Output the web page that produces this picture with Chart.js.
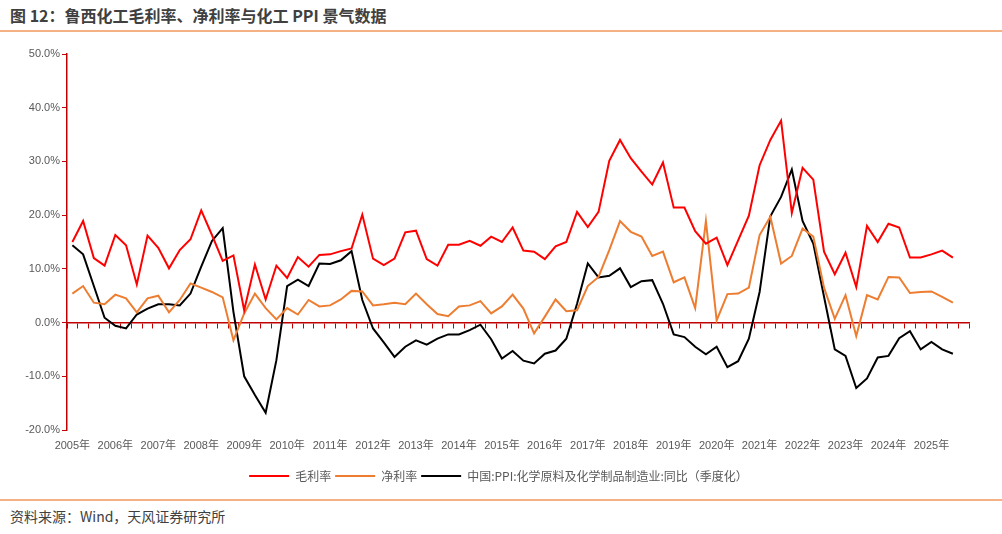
<!DOCTYPE html>
<html>
<head>
<meta charset="utf-8">
<script src="https://cdn.jsdelivr.net/npm/chart.js@4.4.1/dist/chart.umd.min.js"></script>
<style>
  html, body { margin:0; padding:0; background:#fff; }
  body { width:1002px; height:534px; position:relative; overflow:hidden; font-family:"Noto Sans CJK SC", sans-serif; }
  .title { position:absolute; left:10px; top:3px; font-size:16px; font-weight:bold; color:#404040; white-space:nowrap; }
  .rule { position:absolute; left:0; width:1002px; height:2px; background:#F4B183; }
  .source { position:absolute; left:10px; top:506px; font-size:14px; color:#404040; white-space:nowrap; }
  .box { position:absolute; left:0; top:32px; width:1002px; height:466px; }
</style>
</head>
<body>
<div class="title">图 12：鲁西化工毛利率、净利率与化工 PPI 景气数据</div>
<div class="rule" style="top:30px"></div>
<div class="box"><canvas id="c"></canvas></div>
<div class="rule" style="top:499px"></div>
<div class="source">资料来源：Wind，天风证券研究所</div>
<script>
(function(){
  // 2005Q1 ... 2025Q4, one label per quarter, year text only on Q1
  const years = ['2005','2006','2007','2008','2009','2010','2011','2012','2013','2014','2015',
                 '2016','2017','2018','2019','2020','2021','2022','2023','2024','2025'];
  const quarters = ['Q1','Q2','Q3','Q4'];

  const grossMargin = [15.0,18.9,12.0,10.6,16.3,14.4,7.1,16.2,13.9,10.1,
    13.5,15.5,20.9,16.3,11.5,12.5,2.3,10.8,4.3,10.6,
    8.3,12.2,10.4,12.6,12.7,13.3,13.8,20.1,11.9,10.7,
    11.9,16.8,17.1,11.8,10.6,14.5,14.5,15.2,14.3,16.0,
    15.0,17.7,13.4,13.2,11.8,14.2,15.0,20.6,17.8,20.6,
    30.1,34.0,30.6,28.1,25.7,29.8,21.4,21.4,17.0,14.7,
    15.8,10.7,15.3,19.9,29.3,34.0,37.6,20.4,28.8,26.6,
    13.2,9.0,13.0,6.6,18.0,15.0,18.4,17.7,12.1,12.1,
    12.7,13.4,12.1];
  const netMargin = [5.4,6.8,3.7,3.4,5.2,4.5,1.9,4.5,5.0,1.9,
    4.2,7.3,6.5,5.7,4.7,-3.3,1.7,5.4,2.7,0.6,
    2.7,1.5,4.2,3.0,3.2,4.3,5.9,5.8,3.2,3.4,
    3.7,3.4,5.4,3.4,1.6,1.2,3.0,3.2,4.0,1.7,
    3.0,5.2,2.6,-2.0,1.1,4.3,2.1,2.3,6.8,8.5,
    13.5,18.9,16.9,16.0,12.4,13.2,7.5,8.4,2.7,18.9,
    0.4,5.3,5.4,6.5,16.3,19.7,11.0,12.4,17.5,16.0,
    6.5,0.7,5.1,-2.5,5.1,4.3,8.5,8.4,5.5,5.7,
    5.8,4.8,3.7];
  const chemPPI = [14.4,12.7,6.8,0.9,-0.6,-1.1,1.5,2.6,3.4,3.4,
    3.2,5.4,10.4,15.2,17.6,2.0,-10.0,-13.5,-16.8,-7.0,
    6.8,8.0,6.8,11.0,10.9,11.6,13.3,4.2,-1.1,-3.7,
    -6.4,-4.5,-3.3,-4.1,-3.0,-2.2,-2.2,-1.4,-0.4,-3.1,
    -6.7,-5.3,-7.1,-7.6,-5.8,-5.2,-3.0,3.5,11.0,8.4,
    8.7,10.1,6.6,7.7,7.9,3.5,-2.2,-2.7,-4.5,-5.9,
    -4.5,-8.3,-7.2,-3.0,5.7,19.8,23.4,28.5,18.9,14.7,
    4.8,-5.0,-6.2,-12.2,-10.4,-6.5,-6.2,-2.9,-1.6,-5.0,
    -3.6,-5.0,-5.8];

  const seriesNames = ['毛利率','净利率','中国:PPI:化学原料及化学制品制造业:同比（季度化）'];
  const seriesColors = ['#FF0000','#ED7D31','#000000'];

  const labels = [];
  years.forEach(y => quarters.forEach(q => labels.push(y + q)));

  const axisRed = '#C00000';
  const tickFont = { family:'"Liberation Sans Narrow","Liberation Sans","Noto Sans CJK SC",sans-serif', size:11 };

  function ds(name, data, color){
    return { label:name, data, borderColor:color, backgroundColor:color, borderWidth:2,
             pointRadius:0, tension:0, fill:false };
  }

  new Chart(document.getElementById('c'), {
    type:'line',
    data:{ labels, datasets:[
      ds(seriesNames[0], grossMargin, seriesColors[0]),
      ds(seriesNames[1], netMargin, seriesColors[1]),
      ds(seriesNames[2], chemPPI, seriesColors[2])
    ]},
    options:{
      responsive:true, maintainAspectRatio:false, animation:false,
      layout:{ padding:{ left:0, right:5, top:22, bottom:6 } },
      plugins:{
        tooltip:{ enabled:false },
        legend:{ position:'bottom',
          labels:{ usePointStyle:true, pointStyle:'line', pointStyleWidth:40, boxHeight:12,
                   padding:4, color:'#595959',
                   font:{ family:'"Liberation Sans Narrow","Noto Sans CJK SC",sans-serif', size:12 } } }
      },
      scales:{
        x:{ type:'category', offset:true,
            grid:{ display:false }, border:{ display:false },
            ticks:{ autoSkip:false, maxRotation:0, padding:1, color:'#595959', font:tickFont,
                    callback:(v,i)=> i % 4 === 0 ? labels[i].slice(0,4) + '年' : '' },
            afterFit:s=>{ s.height = 36; } },
        x2:{ type:'category', labels, offset:true, position:{ y:0 },
             grid:{ display:true, drawOnChartArea:false, drawTicks:true, tickLength:5, color:axisRed, offset:true },
             border:{ display:true, color:axisRed, width:1.5 },
             ticks:{ display:false, autoSkip:false } },
        y:{ min:-20, max:50,
            grid:{ display:true, drawOnChartArea:false, drawTicks:true, tickLength:5, color:axisRed },
            border:{ display:true, color:axisRed, width:1.5 },
            ticks:{ stepSize:10, padding:2, color:'#595959', font:tickFont,
                    callback:v=> v.toFixed(1) + '%' },
            afterFit:s=>{ s.width = 67; } },
        // empty right-hand spacer so the legend centres on the whole figure
        yRight:{ position:'right', display:true, min:-20, max:50,
            grid:{ display:false }, border:{ display:false }, ticks:{ display:false },
            afterFit:s=>{ s.width = 28; } }
      }
    }
  });
})();
</script>
</body>
</html>
